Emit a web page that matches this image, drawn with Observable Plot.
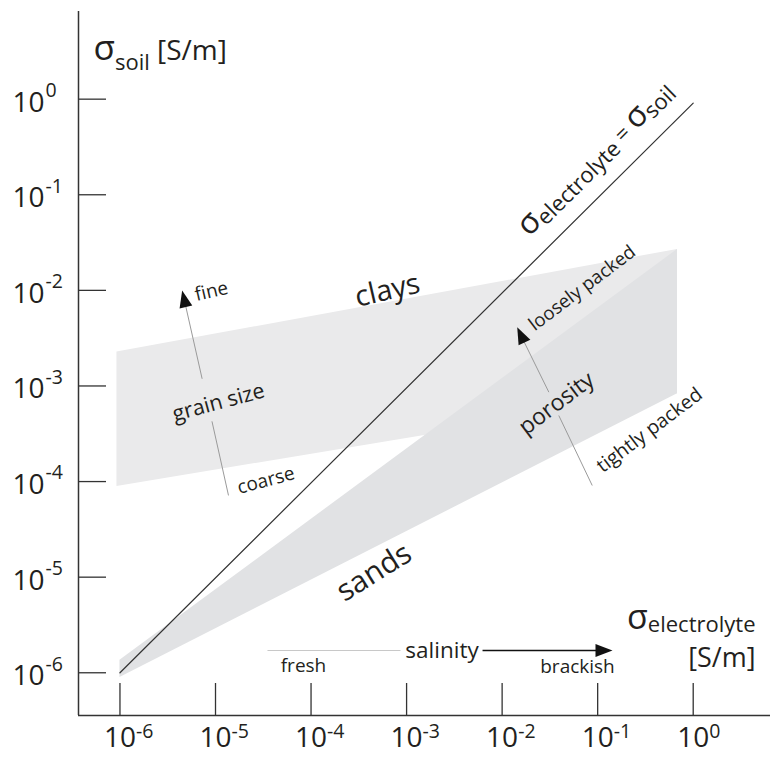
<!DOCTYPE html>
<html>
<head>
<meta charset="utf-8">
<script src="https://cdn.jsdelivr.net/npm/d3@7"></script>
<script src="https://cdn.jsdelivr.net/npm/@observablehq/plot@0.6"></script>
<style>
  html, body { margin: 0; padding: 0; background: #fff; }
  #chart { width: 772px; height: 759px; }
</style>
</head>
<body>
<div id="chart"></div>
<script>
// ---- data ----
const xTicks = [1e-6, 1e-5, 1e-4, 1e-3, 1e-2, 1e-1, 1];
const yTicks = [1e-6, 1e-5, 1e-4, 1e-3, 1e-2, 1e-1, 1];
const tickExponents = ["-6", "-5", "-4", "-3", "-2", "-1", "0"];

const claysX = [0.93e-6, 0.685];
const claysLow = [8.9e-5, 8.3e-4];
const claysHigh = [2.26e-3, 2.68e-2];

const sandsX = [1.0e-6, 0.685];
const sandsLow = [0.89e-6, 8.3e-4];
const sandsHigh = [1.35e-6, 2.68e-2];

const lineX = [1e-6, 1];
const lineY = [1e-6, 0.91];

const xDomain = [10 ** -6.434, 10 ** 0.809];
const yDomain = [10 ** -6.447, 10 ** 0.917];

const clays = claysX.map((x, i) => ({x, lo: claysLow[i], hi: claysHigh[i]}));
const sands = sandsX.map((x, i) => ({x, lo: sandsLow[i], hi: sandsHigh[i]}));
const identity = lineX.map((x, i) => ({x, y: lineY[i]}));

// annotation arrows (shaft segments) in data units
const greyShafts = [
  {x1: 10 ** -4.864, y1: 10 ** -4.145, x2: 10 ** -5.037, y2: 10 ** -3.370},
  {x1: 10 ** -5.140, y1: 10 ** -2.925, x2: 10 ** -5.312, y2: 10 ** -2.164},
  {x1: 10 ** -1.057, y1: 10 ** -4.041, x2: 10 ** -1.407, y2: 10 ** -3.309},
  {x1: 10 ** -1.511, y1: 10 ** -3.065, x2: 10 ** -1.771, y2: 10 ** -2.537}
];
const paleShafts = [{x1: 10 ** -4.456, y1: 10 ** -5.767, x2: 10 ** -3.064, y2: 10 ** -5.767}];
const blackShafts = [{x1: 10 ** -2.205, y1: 10 ** -5.767, x2: 10 ** -1.012, y2: 10 ** -5.767}];
const heads = [
  {x: 10 ** -5.349, y: 10 ** -2.001, angle: -12.8},
  {x: 10 ** -1.842, y: 10 ** -2.385, angle: -25.3},
  {x: 10 ** -0.845, y: 10 ** -5.767, angle: 90}
];

const ink = "#231f20";
const arrowHead = {
  draw(context) {
    context.moveTo(0, 0);
    context.lineTo(6.5, 17);
    context.lineTo(-6.5, 17);
    context.closePath();
  }
};

function label(text, x, y, size, angle = 0) {
  return Plot.text([text], {
    x: () => x, y: () => y, text: d => d,
    fontSize: size, rotate: angle, fill: ink, textAnchor: "middle"
  });
}

const plot = Plot.plot({
  width: 772,
  height: 759,
  marginLeft: 78,
  marginRight: 2,
  marginTop: 11,
  marginBottom: 44,
  style: {fontFamily: "'Open Sans', 'DejaVu Sans', sans-serif", background: "#fff"},
  x: {type: "log", domain: xDomain, axis: null},
  y: {type: "log", domain: yDomain, axis: null},
  marks: [
    Plot.areaY(clays, {x: "x", y1: "lo", y2: "hi", fill: "#eaeaeb"}),
    Plot.areaY(sands, {x: "x", y1: "lo", y2: "hi", fill: "#e1e2e4"}),
    Plot.line(identity, {x: "x", y: "y", stroke: "#333", strokeWidth: 1.2}),
    // axes
    Plot.ruleX([xDomain[0]], {stroke: "#333", strokeWidth: 1.5}),
    Plot.ruleY([yDomain[0]], {stroke: "#333", strokeWidth: 1.5}),
    Plot.tickX(xTicks, {x: d => d, insetTop: 672, stroke: "#333", strokeWidth: 1.3}),
    Plot.tickY(yTicks, {y: d => d, insetRight: 664, stroke: "#333", strokeWidth: 1.3}),
    Plot.text(yTicks, {y: d => d, frameAnchor: "left", text: () => "10", textAnchor: "end", dx: -34, dy: 3.5, fontSize: 28, fill: ink}),
    Plot.text(yTicks, {y: d => d, frameAnchor: "left", text: (d, i) => tickExponents[i], textAnchor: "start", dx: -33, dy: -8.5, fontSize: 19.5, fill: ink}),
    Plot.text(xTicks, {x: d => d, frameAnchor: "bottom", text: () => "10", textAnchor: "middle", dy: 31, fontSize: 28, fill: ink}),
    Plot.text(xTicks, {x: d => d, frameAnchor: "bottom", text: (d, i) => tickExponents[i], textAnchor: "start", dx: 16, dy: 22, fontSize: 19.5, fill: ink}),
    // axis titles
    Plot.text(["σsoil [S/m]"], {frameAnchor: "top-left", text: d => d, textAnchor: "start", dx: 15, dy: 31, fontSize: 25, fill: ink}),
    Plot.text(["σelectrolyte"], {frameAnchor: "bottom-right", text: d => d, textAnchor: "end", dx: -15, dy: -87, fontSize: 22, fill: ink}),
    Plot.text(["[S/m]"], {frameAnchor: "bottom-right", text: d => d, textAnchor: "end", dx: -15, dy: -49, fontSize: 27, fill: ink}),
    // arrows
    Plot.link(greyShafts, {x1: "x1", y1: "y1", x2: "x2", y2: "y2", stroke: "#9a9a9a", strokeWidth: 1}),
    Plot.link(paleShafts, {x1: "x1", y1: "y1", x2: "x2", y2: "y2", stroke: "#c8c8c8", strokeWidth: 1.2}),
    Plot.link(blackShafts, {x1: "x1", y1: "y1", x2: "x2", y2: "y2", stroke: "#111", strokeWidth: 1.5}),
    Plot.dot(heads, {x: "x", y: "y", rotate: "angle", symbol: arrowHead, fill: "#111", stroke: "none"}),
    // annotations
    label("σelectrolyte = σsoil", 10 ** -1.007, 10 ** -0.633, 22, -44.8),
    label("clays", 10 ** -3.200, 10 ** -2.001, 29, -13),
    label("sands", 10 ** -3.340, 10 ** -4.950, 30, -32),
    label("fine", 10 ** -5.042, 10 ** -2.010, 19, -13),
    label("grain size", 10 ** -4.969, 10 ** -3.173, 21.5, -15),
    label("coarse", 10 ** -4.472, 10 ** -3.989, 19, -15),
    label("loosely packed", 10 ** -1.162, 10 ** -1.977, 18.7, -37),
    label("porosity", 10 ** -1.431, 10 ** -3.183, 23, -37),
    label("tightly packed", 10 ** -0.457, 10 ** -3.462, 19.5, -37),
    label("salinity", 10 ** -2.629, 10 ** -5.767, 22.5, 0),
    label("fresh", 10 ** -4.079, 10 ** -5.929, 19, 0),
    label("brackish", 10 ** -1.211, 10 ** -5.934, 19, 0)
  ]
});

// rich text (Greek symbol + subscript) for titles
const rich = {
  "σsoil [S/m]": [["σ", 35, 0], ["soil", 22, 10], [" [S/m]", 28, 0]],
  "σelectrolyte": [["σ", 34, 0], ["electrolyte", 22, 3]],
  "σelectrolyte = σsoil": [["σ", 32, 0], ["electrolyte", 22, 4], [" = ", 22, 0], ["σ", 32, 0], ["soil", 22, 4]]
};
d3.select(plot).selectAll("text").each(function () {
  const segs = rich[this.textContent];
  if (!segs) return;
  const el = d3.select(this);
  el.text(null);
  let prev = 0;
  for (const [t, size, shift] of segs) {
    el.append("tspan").attr("font-size", size).attr("dy", shift - prev).text(t);
    prev = shift;
  }
});

document.getElementById("chart").appendChild(plot);
</script>
</body>
</html>
